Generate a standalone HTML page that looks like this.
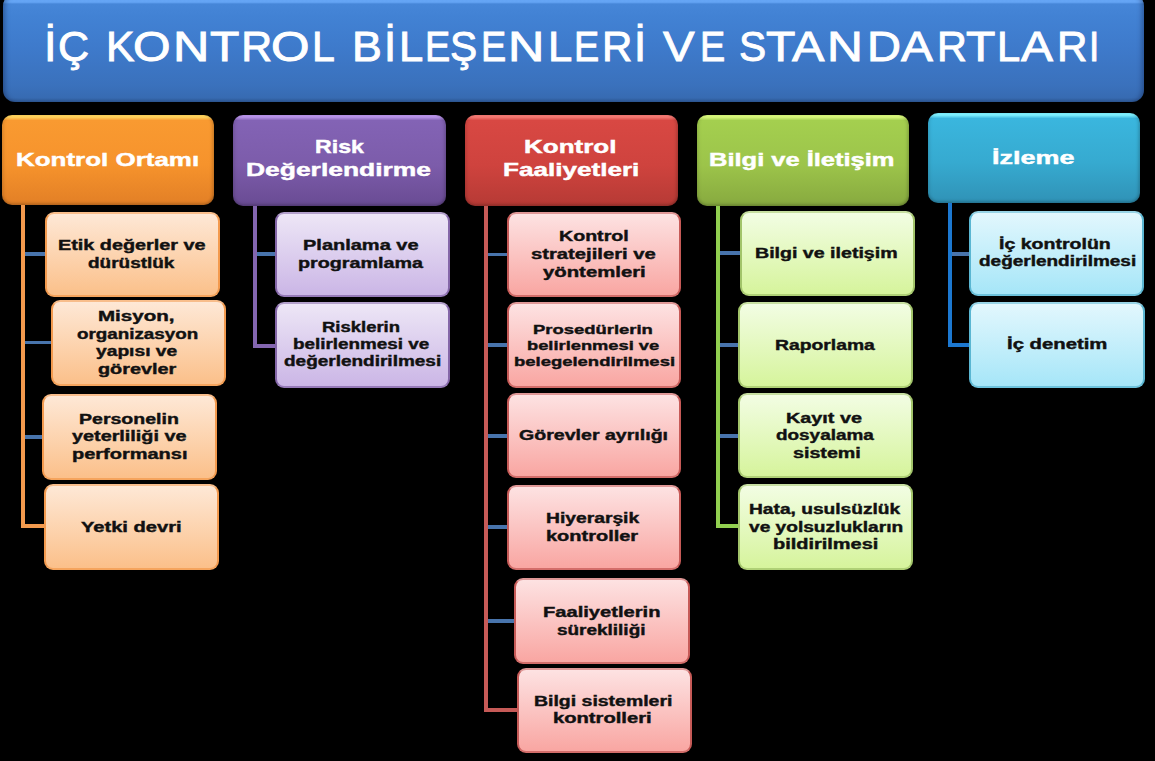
<!DOCTYPE html>
<html><head><meta charset="utf-8"><style>
html,body{margin:0;padding:0;background:#000;}
body{width:1155px;height:761px;position:relative;overflow:hidden;font-family:'Liberation Sans', sans-serif;}
.t{position:absolute;white-space:nowrap;font-weight:bold;transform-origin:0 0;}
.tt{font-weight:normal;color:#fff;}
.title{position:absolute;left:2.8px;top:-6px;width:1141.2px;height:107.6px;border-radius:12px;background:linear-gradient(to bottom,#68a8f8 0px,#64a4f4 8.2px,#4686d8 10px,#4282d4 20%,#3e7acb 50%,#3a71bc 85%,#376bb2 96%,#2f5a96 100%);box-shadow:inset 5px 0 5px -3px rgba(0,10,40,.35), inset -5px 0 5px -3px rgba(0,10,40,.35);}
.hdr{position:absolute;border-radius:10px;box-shadow:inset -3px 0 3px -1px rgba(0,0,0,.16), inset 3px 0 3px -1px rgba(0,0,0,.10), inset 0 -3px 3px -1px rgba(0,0,0,.18);}
.ch{position:absolute;box-sizing:border-box;border:2px solid;border-radius:9px;}
.ln{position:absolute;}
</style></head><body>
<div class="title"></div>
<div class="t tt" style="left:44.45px;top:25.07px;font-size:42.8px;line-height:42.8px;-webkit-text-stroke:0.9px #fff;transform:scaleX(1.0500);">İ</div>
<div class="t tt" style="left:58.29px;top:25.07px;font-size:42.8px;line-height:42.8px;-webkit-text-stroke:0.9px #fff;transform:scaleX(1.0071);">Ç</div>
<div class="t tt" style="left:105.71px;top:25.07px;font-size:42.8px;line-height:42.8px;-webkit-text-stroke:0.9px #fff;transform:scaleX(0.9960);">K</div>
<div class="t tt" style="left:133.35px;top:25.07px;font-size:42.8px;line-height:42.8px;-webkit-text-stroke:0.9px #fff;transform:scaleX(1.1267);">O</div>
<div class="t tt" style="left:173.27px;top:25.07px;font-size:42.8px;line-height:42.8px;-webkit-text-stroke:0.9px #fff;transform:scaleX(1.1760);">N</div>
<div class="t tt" style="left:210.28px;top:25.07px;font-size:42.8px;line-height:42.8px;-webkit-text-stroke:0.9px #fff;transform:scaleX(1.1240);">T</div>
<div class="t tt" style="left:241.30px;top:25.07px;font-size:42.8px;line-height:42.8px;-webkit-text-stroke:0.9px #fff;transform:scaleX(1.0000);">R</div>
<div class="t tt" style="left:271.39px;top:25.07px;font-size:42.8px;line-height:42.8px;-webkit-text-stroke:0.9px #fff;transform:scaleX(1.1567);">O</div>
<div class="t tt" style="left:312.42px;top:25.07px;font-size:42.8px;line-height:42.8px;-webkit-text-stroke:0.9px #fff;transform:scaleX(0.9600);">L</div>
<div class="t tt" style="left:352.06px;top:25.07px;font-size:42.8px;line-height:42.8px;-webkit-text-stroke:0.9px #fff;transform:scaleX(1.0458);">B</div>
<div class="t tt" style="left:384.15px;top:25.07px;font-size:42.8px;line-height:42.8px;-webkit-text-stroke:0.9px #fff;transform:scaleX(1.0167);">İ</div>
<div class="t tt" style="left:398.84px;top:25.07px;font-size:42.8px;line-height:42.8px;-webkit-text-stroke:0.9px #fff;transform:scaleX(1.0200);">L</div>
<div class="t tt" style="left:425.25px;top:25.07px;font-size:42.8px;line-height:42.8px;-webkit-text-stroke:0.9px #fff;transform:scaleX(0.8833);">E</div>
<div class="t tt" style="left:450.30px;top:25.07px;font-size:42.8px;line-height:42.8px;-webkit-text-stroke:0.9px #fff;transform:scaleX(0.9520);">Ş</div>
<div class="t tt" style="left:480.65px;top:25.07px;font-size:42.8px;line-height:42.8px;-webkit-text-stroke:0.9px #fff;transform:scaleX(0.8833);">E</div>
<div class="t tt" style="left:507.97px;top:25.07px;font-size:42.8px;line-height:42.8px;-webkit-text-stroke:0.9px #fff;transform:scaleX(1.1760);">N</div>
<div class="t tt" style="left:547.54px;top:25.07px;font-size:42.8px;line-height:42.8px;-webkit-text-stroke:0.9px #fff;transform:scaleX(1.0200);">L</div>
<div class="t tt" style="left:573.95px;top:25.07px;font-size:42.8px;line-height:42.8px;-webkit-text-stroke:0.9px #fff;transform:scaleX(0.8833);">E</div>
<div class="t tt" style="left:602.26px;top:25.07px;font-size:42.8px;line-height:42.8px;-webkit-text-stroke:0.9px #fff;transform:scaleX(0.9808);">R</div>
<div class="t tt" style="left:634.15px;top:25.07px;font-size:42.8px;line-height:42.8px;-webkit-text-stroke:0.9px #fff;transform:scaleX(1.0167);">İ</div>
<div class="t tt" style="left:663.20px;top:25.07px;font-size:42.8px;line-height:42.8px;-webkit-text-stroke:0.9px #fff;transform:scaleX(1.1069);">V</div>
<div class="t tt" style="left:699.55px;top:25.07px;font-size:42.8px;line-height:42.8px;-webkit-text-stroke:0.9px #fff;transform:scaleX(0.8833);">E</div>
<div class="t tt" style="left:739.20px;top:25.07px;font-size:42.8px;line-height:42.8px;-webkit-text-stroke:0.9px #fff;transform:scaleX(0.9520);">S</div>
<div class="t tt" style="left:766.38px;top:25.07px;font-size:42.8px;line-height:42.8px;-webkit-text-stroke:0.9px #fff;transform:scaleX(1.1240);">T</div>
<div class="t tt" style="left:792.10px;top:25.07px;font-size:42.8px;line-height:42.8px;-webkit-text-stroke:0.9px #fff;transform:scaleX(1.1345);">A</div>
<div class="t tt" style="left:826.92px;top:25.07px;font-size:42.8px;line-height:42.8px;-webkit-text-stroke:0.9px #fff;transform:scaleX(1.1600);">N</div>
<div class="t tt" style="left:866.90px;top:25.07px;font-size:42.8px;line-height:42.8px;-webkit-text-stroke:0.9px #fff;transform:scaleX(1.1000);">D</div>
<div class="t tt" style="left:901.40px;top:25.07px;font-size:42.8px;line-height:42.8px;-webkit-text-stroke:0.9px #fff;transform:scaleX(1.1172);">A</div>
<div class="t tt" style="left:937.00px;top:25.07px;font-size:42.8px;line-height:42.8px;-webkit-text-stroke:0.9px #fff;transform:scaleX(0.9654);">R</div>
<div class="t tt" style="left:965.58px;top:25.07px;font-size:42.8px;line-height:42.8px;-webkit-text-stroke:0.9px #fff;transform:scaleX(1.1240);">T</div>
<div class="t tt" style="left:997.08px;top:25.07px;font-size:42.8px;line-height:42.8px;-webkit-text-stroke:0.9px #fff;transform:scaleX(0.9750);">L</div>
<div class="t tt" style="left:1021.20px;top:25.07px;font-size:42.8px;line-height:42.8px;-webkit-text-stroke:0.9px #fff;transform:scaleX(1.1207);">A</div>
<div class="t tt" style="left:1056.75px;top:25.07px;font-size:42.8px;line-height:42.8px;-webkit-text-stroke:0.9px #fff;transform:scaleX(0.9846);">R</div>
<div class="t tt" style="left:1089.20px;top:25.07px;font-size:42.8px;line-height:42.8px;-webkit-text-stroke:0.9px #fff;transform:scaleX(0.8667);">I</div>
<div class="hdr" style="left:1.5px;top:114.5px;width:212.8px;height:90.8px;background:linear-gradient(to bottom,#ffd45e 0px,#ffd45e 2px,#f99a31 5.5px,#f6932c 55%,#e27f26 100%);"></div>
<div class="t" style="left:15.60px;top:150.74px;font-size:18.5px;line-height:18.5px;color:#fff;-webkit-text-stroke:0.45px #fff;transform:scaleX(1.4031);">Kontrol Ortamı</div>
<div class="hdr" style="left:233.2px;top:114.8px;width:213.2px;height:91.2px;background:linear-gradient(to bottom,#b994ea 0px,#b994ea 2px,#8363b5 5.5px,#7c5caa 55%,#694b93 100%);"></div>
<div class="t" style="left:314.55px;top:138.14px;font-size:18.5px;line-height:18.5px;color:#fff;-webkit-text-stroke:0.45px #fff;transform:scaleX(1.2500);">Risk</div>
<div class="t" style="left:246.47px;top:161.04px;font-size:18.5px;line-height:18.5px;color:#fff;-webkit-text-stroke:0.45px #fff;transform:scaleX(1.4281);">Değerlendirme</div>
<div class="hdr" style="left:464.5px;top:114.9px;width:213.6px;height:91.1px;background:linear-gradient(to bottom,#f47a74 0px,#f47a74 2px,#d84843 5.5px,#cf433e 55%,#b63a35 100%);"></div>
<div class="t" style="left:524.40px;top:138.14px;font-size:18.5px;line-height:18.5px;color:#fff;-webkit-text-stroke:0.45px #fff;transform:scaleX(1.4047);">Kontrol</div>
<div class="t" style="left:502.59px;top:161.04px;font-size:18.5px;line-height:18.5px;color:#fff;-webkit-text-stroke:0.45px #fff;transform:scaleX(1.4105);">Faaliyetleri</div>
<div class="hdr" style="left:696.5px;top:114.9px;width:212.7px;height:91.1px;background:linear-gradient(to bottom,#d8f77c 0px,#d8f77c 2px,#a4cf4f 5.5px,#9cc44a 55%,#87a93f 100%);"></div>
<div class="t" style="left:709.12px;top:150.54px;font-size:18.5px;line-height:18.5px;color:#fff;-webkit-text-stroke:0.45px #fff;transform:scaleX(1.3774);">Bilgi ve İletişim</div>
<div class="hdr" style="left:928.3px;top:113.3px;width:211.7px;height:90.0px;background:linear-gradient(to bottom,#7ff0ff 0px,#7ff0ff 2px,#3ab6de 5.5px,#36aad0 55%,#3092b6 100%);"></div>
<div class="t" style="left:992.14px;top:148.54px;font-size:18.5px;line-height:18.5px;color:#fff;-webkit-text-stroke:0.45px #fff;transform:scaleX(1.4564);">İzleme</div>
<div class="ln" style="left:21px;top:205px;width:4.2px;height:323.0px;background:#f39a4e;"></div>
<div class="ln" style="left:21px;top:524px;width:24.0px;height:4px;background:#f39a4e;"></div>
<div class="ln" style="left:253px;top:206px;width:4.1px;height:141.5px;background:#8466b0;"></div>
<div class="ln" style="left:253px;top:344.2px;width:22.0px;height:4px;background:#8466b0;"></div>
<div class="ln" style="left:484px;top:206px;width:4.1px;height:506.0px;background:#c65a57;"></div>
<div class="ln" style="left:484px;top:708.4px;width:33.0px;height:4px;background:#c65a57;"></div>
<div class="ln" style="left:715.5px;top:206px;width:4.5px;height:322.0px;background:#92d050;"></div>
<div class="ln" style="left:715.5px;top:523.8px;width:22.5px;height:4px;background:#92d050;"></div>
<div class="ln" style="left:948px;top:203px;width:4.1px;height:144.0px;background:#1c78d0;"></div>
<div class="ln" style="left:948px;top:343px;width:21.0px;height:4px;background:#1c78d0;"></div>
<div class="ln" style="left:25.2px;top:252.2px;width:20.8px;height:3.6px;background:#4874ac;"></div>
<div class="ln" style="left:25.2px;top:340.6px;width:26.3px;height:3.6px;background:#4874ac;"></div>
<div class="ln" style="left:25.2px;top:435px;width:17.3px;height:3.6px;background:#4874ac;"></div>
<div class="ln" style="left:257.1px;top:252.3px;width:18.5px;height:3.6px;background:#4874ac;"></div>
<div class="ln" style="left:488.1px;top:252.5px;width:19.7px;height:3.6px;background:#4874ac;"></div>
<div class="ln" style="left:488.1px;top:343px;width:19.9px;height:3.6px;background:#4874ac;"></div>
<div class="ln" style="left:488.1px;top:434px;width:19.7px;height:3.6px;background:#4874ac;"></div>
<div class="ln" style="left:488.1px;top:525px;width:19.7px;height:3.6px;background:#4874ac;"></div>
<div class="ln" style="left:488.1px;top:619.3px;width:27.2px;height:3.6px;background:#4874ac;"></div>
<div class="ln" style="left:720px;top:251px;width:21.0px;height:3.6px;background:#4874ac;"></div>
<div class="ln" style="left:720px;top:343px;width:18.8px;height:3.6px;background:#4874ac;"></div>
<div class="ln" style="left:720px;top:434px;width:18.8px;height:3.6px;background:#4874ac;"></div>
<div class="ln" style="left:952.1px;top:252px;width:17.4px;height:3.6px;background:#4874ac;"></div>
<div class="ch" style="left:45px;top:211.5px;width:175.0px;height:85.5px;border-color:#f8bd8b #f39a4e #f5a45d #f39a4e;background:linear-gradient(to bottom,#fee8d6,#fbc08a);"></div>
<div class="t" style="left:57.59px;top:238.25px;font-size:14.0px;line-height:14.0px;color:#111;-webkit-text-stroke:0.4px #111;transform:scaleX(1.4146);">Etik değerler ve</div>
<div class="t" style="left:88.30px;top:255.65px;font-size:14.0px;line-height:14.0px;color:#111;-webkit-text-stroke:0.4px #111;transform:scaleX(1.3547);">dürüstlük</div>
<div class="ch" style="left:50.5px;top:300px;width:175.0px;height:85.5px;border-color:#f8bd8b #f39a4e #f5a45d #f39a4e;background:linear-gradient(to bottom,#fee8d6,#fbc08a);"></div>
<div class="t" style="left:98.43px;top:308.95px;font-size:14.0px;line-height:14.0px;color:#111;-webkit-text-stroke:0.4px #111;transform:scaleX(1.4667);">Misyon,</div>
<div class="t" style="left:76.50px;top:326.55px;font-size:14.0px;line-height:14.0px;color:#111;-webkit-text-stroke:0.4px #111;transform:scaleX(1.3422);">organizasyon</div>
<div class="t" style="left:96.00px;top:343.95px;font-size:14.0px;line-height:14.0px;color:#111;-webkit-text-stroke:0.4px #111;transform:scaleX(1.3729);">yapısı ve</div>
<div class="t" style="left:97.50px;top:361.55px;font-size:14.0px;line-height:14.0px;color:#111;-webkit-text-stroke:0.4px #111;transform:scaleX(1.4164);">görevler</div>
<div class="ch" style="left:41.5px;top:394.2px;width:175.3px;height:85.5px;border-color:#f8bd8b #f39a4e #f5a45d #f39a4e;background:linear-gradient(to bottom,#fee8d6,#fbc08a);"></div>
<div class="t" style="left:79.41px;top:411.65px;font-size:14.0px;line-height:14.0px;color:#111;-webkit-text-stroke:0.4px #111;transform:scaleX(1.3943);">Personelin</div>
<div class="t" style="left:71.90px;top:429.25px;font-size:14.0px;line-height:14.0px;color:#111;-webkit-text-stroke:0.4px #111;transform:scaleX(1.4148);">yeterliliği ve</div>
<div class="t" style="left:71.57px;top:446.95px;font-size:14.0px;line-height:14.0px;color:#111;-webkit-text-stroke:0.4px #111;transform:scaleX(1.4266);">performansı</div>
<div class="ch" style="left:44px;top:483.5px;width:174.7px;height:86.2px;border-color:#f8bd8b #f39a4e #f5a45d #f39a4e;background:linear-gradient(to bottom,#fee8d6,#fbc08a);"></div>
<div class="t" style="left:80.80px;top:519.75px;font-size:14.0px;line-height:14.0px;color:#111;-webkit-text-stroke:0.4px #111;transform:scaleX(1.4362);">Yetki devri</div>
<div class="ch" style="left:274.6px;top:211.6px;width:175.4px;height:85.1px;border-color:#b3a0cb #8466a8 #967ab8 #8466a8;background:linear-gradient(to bottom,#ede6f6,#cbb6e6);"></div>
<div class="t" style="left:302.57px;top:237.85px;font-size:14.0px;line-height:14.0px;color:#111;-webkit-text-stroke:0.4px #111;transform:scaleX(1.4275);">Planlama ve</div>
<div class="t" style="left:298.19px;top:255.55px;font-size:14.0px;line-height:14.0px;color:#111;-webkit-text-stroke:0.4px #111;transform:scaleX(1.4080);">programlama</div>
<div class="ch" style="left:274.8px;top:302.3px;width:175.2px;height:85.7px;border-color:#b3a0cb #8466a8 #967ab8 #8466a8;background:linear-gradient(to bottom,#ede6f6,#cbb6e6);"></div>
<div class="t" style="left:321.58px;top:320.35px;font-size:14.0px;line-height:14.0px;color:#111;-webkit-text-stroke:0.4px #111;transform:scaleX(1.3190);">Risklerin</div>
<div class="t" style="left:293.45px;top:337.15px;font-size:14.0px;line-height:14.0px;color:#111;-webkit-text-stroke:0.4px #111;transform:scaleX(1.3460);">belirlenmesi ve</div>
<div class="t" style="left:283.60px;top:354.35px;font-size:14.0px;line-height:14.0px;color:#111;-webkit-text-stroke:0.4px #111;transform:scaleX(1.3557);">değerlendirilmesi</div>
<div class="ch" style="left:506.8px;top:212px;width:174.2px;height:85.3px;border-color:#df9796 #c65a57 #d36d6a #c65a57;background:linear-gradient(to bottom,#fde2e2,#f9a6a2);"></div>
<div class="t" style="left:558.90px;top:229.45px;font-size:14.0px;line-height:14.0px;color:#111;-webkit-text-stroke:0.4px #111;transform:scaleX(1.4000);">Kontrol</div>
<div class="t" style="left:531.40px;top:247.15px;font-size:14.0px;line-height:14.0px;color:#111;-webkit-text-stroke:0.4px #111;transform:scaleX(1.4442);">stratejileri ve</div>
<div class="t" style="left:543.10px;top:264.65px;font-size:14.0px;line-height:14.0px;color:#111;-webkit-text-stroke:0.4px #111;transform:scaleX(1.4514);">yöntemleri</div>
<div class="ch" style="left:507px;top:302.3px;width:173.7px;height:85.3px;border-color:#df9796 #c65a57 #d36d6a #c65a57;background:linear-gradient(to bottom,#fde2e2,#f9a6a2);"></div>
<div class="t" style="left:533.18px;top:323.20px;font-size:13.0px;line-height:13.0px;color:#111;-webkit-text-stroke:0.4px #111;transform:scaleX(1.4181);">Prosedürlerin</div>
<div class="t" style="left:526.99px;top:339.00px;font-size:13.0px;line-height:13.0px;color:#111;-webkit-text-stroke:0.4px #111;transform:scaleX(1.4075);">belirlenmesi ve</div>
<div class="t" style="left:513.68px;top:354.80px;font-size:13.0px;line-height:13.0px;color:#111;-webkit-text-stroke:0.4px #111;transform:scaleX(1.4196);">belegelendirilmesi</div>
<div class="ch" style="left:506.8px;top:393.4px;width:173.9px;height:85.0px;border-color:#df9796 #c65a57 #d36d6a #c65a57;background:linear-gradient(to bottom,#fde2e2,#f9a6a2);"></div>
<div class="t" style="left:519.40px;top:428.35px;font-size:14.0px;line-height:14.0px;color:#111;-webkit-text-stroke:0.4px #111;transform:scaleX(1.3981);">Görevler ayrılığı</div>
<div class="ch" style="left:506.8px;top:484.7px;width:174.2px;height:85.0px;border-color:#df9796 #c65a57 #d36d6a #c65a57;background:linear-gradient(to bottom,#fde2e2,#f9a6a2);"></div>
<div class="t" style="left:545.62px;top:511.45px;font-size:14.0px;line-height:14.0px;color:#111;-webkit-text-stroke:0.4px #111;transform:scaleX(1.3761);">Hiyerarşik</div>
<div class="t" style="left:546.47px;top:529.05px;font-size:14.0px;line-height:14.0px;color:#111;-webkit-text-stroke:0.4px #111;transform:scaleX(1.4266);">kontroller</div>
<div class="ch" style="left:514.3px;top:578.2px;width:175.4px;height:85.8px;border-color:#df9796 #c65a57 #d36d6a #c65a57;background:linear-gradient(to bottom,#fde2e2,#f9a6a2);"></div>
<div class="t" style="left:542.56px;top:605.25px;font-size:14.0px;line-height:14.0px;color:#111;-webkit-text-stroke:0.4px #111;transform:scaleX(1.4375);">Faaliyetlerin</div>
<div class="t" style="left:556.50px;top:622.95px;font-size:14.0px;line-height:14.0px;color:#111;-webkit-text-stroke:0.4px #111;transform:scaleX(1.3538);">sürekliliği</div>
<div class="ch" style="left:517px;top:667.5px;width:174.7px;height:85.1px;border-color:#df9796 #c65a57 #d36d6a #c65a57;background:linear-gradient(to bottom,#fde2e2,#f9a6a2);"></div>
<div class="t" style="left:533.81px;top:693.65px;font-size:14.0px;line-height:14.0px;color:#111;-webkit-text-stroke:0.4px #111;transform:scaleX(1.3898);">Bilgi sistemleri</div>
<div class="t" style="left:553.46px;top:711.35px;font-size:14.0px;line-height:14.0px;color:#111;-webkit-text-stroke:0.4px #111;transform:scaleX(1.4403);">kontrolleri</div>
<div class="ch" style="left:740px;top:210.5px;width:175.0px;height:85.3px;border-color:#c6dea0 #a2c46a #afd076 #a2c46a;background:linear-gradient(to bottom,#f2fde3,#d6f49c);"></div>
<div class="t" style="left:754.70px;top:245.95px;font-size:14.0px;line-height:14.0px;color:#111;-webkit-text-stroke:0.4px #111;transform:scaleX(1.3990);">Bilgi ve iletişim</div>
<div class="ch" style="left:737.8px;top:302.3px;width:175.2px;height:85.3px;border-color:#c6dea0 #a2c46a #afd076 #a2c46a;background:linear-gradient(to bottom,#f2fde3,#d6f49c);"></div>
<div class="t" style="left:774.92px;top:337.55px;font-size:14.0px;line-height:14.0px;color:#111;-webkit-text-stroke:0.4px #111;transform:scaleX(1.3792);">Raporlama</div>
<div class="ch" style="left:737.8px;top:393.4px;width:175.2px;height:85.0px;border-color:#c6dea0 #a2c46a #afd076 #a2c46a;background:linear-gradient(to bottom,#f2fde3,#d6f49c);"></div>
<div class="t" style="left:786.49px;top:411.05px;font-size:14.0px;line-height:14.0px;color:#111;-webkit-text-stroke:0.4px #111;transform:scaleX(1.4132);">Kayıt ve</div>
<div class="t" style="left:775.80px;top:428.35px;font-size:14.0px;line-height:14.0px;color:#111;-webkit-text-stroke:0.4px #111;transform:scaleX(1.3507);">dosyalama</div>
<div class="t" style="left:792.70px;top:445.95px;font-size:14.0px;line-height:14.0px;color:#111;-webkit-text-stroke:0.4px #111;transform:scaleX(1.4043);">sistemi</div>
<div class="ch" style="left:738px;top:483.6px;width:175.0px;height:86.0px;border-color:#c6dea0 #a2c46a #afd076 #a2c46a;background:linear-gradient(to bottom,#f2fde3,#d6f49c);"></div>
<div class="t" style="left:748.83px;top:501.85px;font-size:14.0px;line-height:14.0px;color:#111;-webkit-text-stroke:0.4px #111;transform:scaleX(1.3691);">Hata, usulsüzlük</div>
<div class="t" style="left:748.60px;top:519.55px;font-size:14.0px;line-height:14.0px;color:#111;-webkit-text-stroke:0.4px #111;transform:scaleX(1.3661);">ve yolsuzlukların</div>
<div class="t" style="left:772.78px;top:537.25px;font-size:14.0px;line-height:14.0px;color:#111;-webkit-text-stroke:0.4px #111;transform:scaleX(1.4250);">bildirilmesi</div>
<div class="ch" style="left:968.5px;top:210.5px;width:175.1px;height:85.3px;border-color:#97d3e5 #5ab6d2 #6dc2dc #5ab6d2;background:linear-gradient(to bottom,#e2f7fd,#a6e6f8);"></div>
<div class="t" style="left:999.21px;top:237.45px;font-size:14.0px;line-height:14.0px;color:#111;-webkit-text-stroke:0.4px #111;transform:scaleX(1.3949);">İç kontrolün</div>
<div class="t" style="left:978.60px;top:254.35px;font-size:14.0px;line-height:14.0px;color:#111;-webkit-text-stroke:0.4px #111;transform:scaleX(1.3557);">değerlendirilmesi</div>
<div class="ch" style="left:968.6px;top:301.7px;width:176.1px;height:86.1px;border-color:#97d3e5 #5ab6d2 #6dc2dc #5ab6d2;background:linear-gradient(to bottom,#e2f7fd,#a6e6f8);"></div>
<div class="t" style="left:1006.75px;top:337.05px;font-size:14.0px;line-height:14.0px;color:#111;-webkit-text-stroke:0.4px #111;transform:scaleX(1.4500);">İç denetim</div>
</body></html>
